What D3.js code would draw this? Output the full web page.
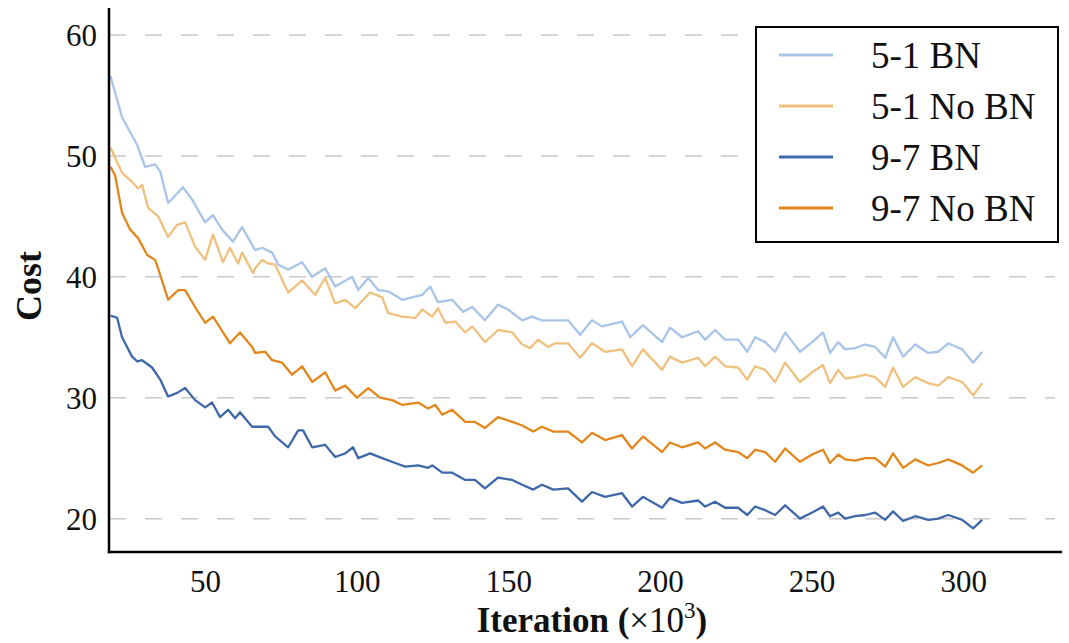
<!DOCTYPE html>
<html>
<head>
<meta charset="utf-8">
<script src="https://cdn.jsdelivr.net/npm/d3@7"></script>
<style>
  html, body { margin: 0; padding: 0; background: #fff; }
  svg { display: block; }
  text { font-family: "Liberation Serif", "DejaVu Serif", serif; fill: #111; }
</style>
</head>
<body>
<svg id="chart" width="1069" height="643"></svg>
<script>
// ---- data (iteration ×10^3, cost) ----
const seriesNames = ["5-1 BN", "5-1 No BN", "9-7 BN", "9-7 No BN"];
const seriesColors = ["#a9c4e9", "#f0c07e", "#3e68a9", "#e3861c"];
const xTicks = [50, 100, 150, 200, 250, 300];
const yTicks = [20, 30, 40, 50, 60];

const s51bn = [[18.8,56.6],[22.6,53.2],[27.6,50.9],[30.2,49.1],[33.5,49.3],[35.2,48.7],[37.8,46.1],[42.7,47.4],[45.7,46.4],[50,44.5],[52.6,45.1],[55.6,43.9],[59.2,42.9],[62.2,44.1],[66.5,42.2],[68.8,42.4],[72.1,42.0],[74.1,41.0],[77.4,40.6],[82.0,41.2],[85.3,40.0],[89.6,40.7],[92.9,39.2],[98.5,40.0],[100.5,38.9],[103.8,39.9],[107.1,38.9],[110.4,38.8],[115.0,38.1],[118.3,38.3],[121.6,38.5],[124.2,39.2],[126.8,37.9],[131.5,38.1],[135.1,37.1],[138.1,37.5],[142.3,36.4],[146.6,37.7],[149.9,37.3],[154.6,36.4],[157.8,36.7],[161.1,36.4],[164.4,36.4],[169.7,36.4],[173.7,35.2],[177.6,36.4],[180.9,35.9],[187.5,36.3],[190.2,35.0],[194.4,36.0],[200.7,34.6],[203.3,35.8],[207.3,35.0],[212.6,35.5],[214.9,34.8],[218.2,35.6],[221.5,34.8],[225.8,34.8],[228.8,33.8],[231.4,35.0],[234.7,34.6],[238.0,33.8],[241.3,35.4],[246.2,33.8],[250.2,34.6],[253.8,35.4],[256.1,33.7],[258.8,34.6],[261.1,34.0],[264.4,34.1],[267.7,34.4],[271.0,34.2],[274.3,33.3],[276.9,35.0],[280.2,33.4],[284.2,34.4],[288.5,33.7],[291.8,33.8],[295.1,34.5],[299.7,34.0],[303.3,32.9],[306.3,33.8]];

const s51nobn = [[18.8,50.7],[22.6,48.6],[25.3,48.0],[27.9,47.3],[29.2,47.6],[31.2,45.7],[34.5,45.0],[37.8,43.3],[40.8,44.3],[43.4,44.5],[46.7,42.5],[50,41.4],[52.6,43.5],[55.9,41.2],[58.2,42.4],[60.9,41.1],[62.2,42.0],[65.8,40.3],[66.5,40.7],[68.8,41.4],[70.8,41.1],[73.1,41.0],[77.4,38.7],[82.0,39.7],[86.3,38.5],[89.6,39.9],[92.9,37.8],[96.2,38.1],[99.5,37.4],[104.4,38.7],[108.4,38.3],[110.4,37.0],[115.0,36.7],[119.3,36.6],[121.6,37.3],[124.9,36.7],[126.8,37.4],[129.2,36.2],[132.5,36.3],[135.8,35.4],[138.1,35.9],[142.3,34.6],[146.6,35.6],[151.3,35.4],[154.6,34.4],[157.2,34.1],[159.8,34.8],[163.1,34.2],[165.4,34.5],[169.7,34.5],[173.7,33.3],[177.6,34.5],[181.9,33.8],[187.5,34.0],[190.8,32.6],[194.4,34.0],[200.7,32.3],[203.3,33.4],[207.3,32.9],[212.6,33.3],[214.9,32.6],[218.2,33.4],[221.5,32.6],[225.8,32.5],[228.8,31.5],[231.4,32.6],[234.7,32.3],[238.0,31.3],[241.3,32.9],[246.2,31.3],[250.2,32.1],[253.8,32.7],[256.1,31.2],[258.8,32.3],[261.1,31.6],[264.4,31.7],[267.7,31.9],[271.0,31.7],[274.3,30.9],[276.9,32.5],[280.2,30.9],[284.2,31.7],[288.5,31.2],[291.8,31.0],[295.1,31.7],[299.7,31.3],[303.3,30.2],[306.3,31.2]];

const s97bn = [[18.8,36.8],[21.0,36.6],[22.6,35.0],[25.9,33.4],[27.6,33.0],[29.2,33.1],[32.5,32.5],[35.2,31.5],[37.8,30.1],[40.8,30.4],[43.4,30.8],[46.7,29.8],[50,29.2],[52.3,29.6],[54.9,28.4],[57.6,29.0],[59.9,28.3],[61.5,28.8],[65.5,27.6],[70.8,27.6],[73.1,26.8],[77.4,25.9],[80.7,27.3],[82.3,27.3],[85.3,25.9],[89.6,26.1],[92.9,25.1],[96.2,25.4],[98.8,25.9],[100.5,25.0],[104.4,25.4],[108.4,25.0],[112.7,24.6],[116.0,24.3],[120.3,24.4],[123.5,24.2],[124.9,24.4],[128.2,23.8],[131.5,23.8],[135.8,23.2],[139.0,23.2],[142.3,22.5],[146.6,23.4],[151.3,23.2],[154.6,22.8],[158.2,22.4],[161.1,22.8],[164.8,22.4],[169.7,22.5],[174.3,21.4],[177.6,22.2],[181.9,21.8],[187.5,22.1],[190.8,21.0],[194.4,21.8],[200.7,20.9],[203.3,21.7],[207.3,21.3],[212.6,21.5],[214.9,21.0],[218.2,21.4],[221.5,20.9],[225.8,20.9],[228.8,20.3],[231.4,21.0],[234.7,20.7],[238.0,20.3],[241.3,21.1],[246.2,20.0],[250.2,20.5],[253.8,21.0],[256.1,20.2],[258.8,20.5],[261.1,20.0],[264.4,20.2],[267.7,20.3],[271.0,20.5],[274.3,19.9],[276.9,20.6],[280.2,19.8],[284.2,20.2],[288.5,19.9],[291.8,20.0],[295.1,20.3],[299.7,19.9],[303.3,19.2],[306.3,19.9]];

const s97nobn = [[18.8,49.1],[20.3,48.4],[22.6,45.3],[25.3,43.9],[27.9,43.2],[30.9,41.8],[33.5,41.4],[34.5,40.7],[37.8,38.1],[41.1,38.9],[43.4,38.9],[46.7,37.5],[50,36.2],[52.6,36.7],[55.9,35.4],[58.2,34.5],[61.5,35.4],[65.5,34.2],[66.5,33.7],[69.8,33.8],[72.1,33.1],[75.4,32.9],[78.7,31.9],[82.0,32.6],[85.3,31.3],[89.6,32.1],[92.9,30.6],[96.2,31.0],[100.1,30.0],[103.8,30.8],[107.7,30.0],[111.7,29.8],[115.0,29.4],[120.3,29.6],[123.5,29.1],[125.9,29.4],[128.2,28.6],[131.5,29.0],[135.8,28.0],[139.0,28.0],[142.3,27.5],[146.6,28.4],[151.3,28.0],[154.6,27.7],[158.2,27.2],[161.1,27.6],[164.8,27.2],[169.7,27.2],[174.3,26.3],[177.6,27.1],[181.9,26.5],[187.5,26.9],[190.8,25.8],[194.4,26.8],[200.7,25.5],[203.3,26.3],[207.3,25.9],[212.6,26.3],[214.9,25.8],[218.2,26.3],[221.5,25.7],[225.8,25.5],[228.8,25.0],[231.4,25.7],[234.7,25.5],[238.0,24.7],[241.3,25.8],[246.2,24.7],[250.2,25.3],[253.8,25.7],[256.1,24.6],[258.8,25.3],[261.1,24.9],[264.4,24.8],[267.7,25.0],[271.0,25.0],[274.3,24.3],[276.9,25.4],[280.2,24.2],[284.2,24.9],[288.5,24.4],[291.8,24.6],[295.1,24.9],[299.7,24.4],[303.3,23.8],[306.3,24.4]];

const seriesData = [s51bn, s51nobn, s97bn, s97nobn];
// drawing order: light lines first, then dark
const drawOrder = [0, 1, 3, 2];

// ---- layout ----
const svg = d3.select("#chart");
const pLeft = 109, pRight = 1055, pTop = 8, pBottom = 552;

const x = d3.scaleLinear().domain([18.3, 330.3]).range([pLeft, pRight]);
const y = d3.scaleLinear().domain([17.24, 62.23]).range([pBottom, pTop]);

// grid lines
svg.append("g").selectAll("line")
  .data(yTicks).join("line")
  .attr("x1", pLeft).attr("x2", pRight)
  .attr("y1", d => y(d)).attr("y2", d => y(d))
  .attr("stroke", "#c9c9c9").attr("stroke-width", 1.5)
  .attr("stroke-dasharray", "17,19");

// lines
const line = d3.line().x(d => x(d[0])).y(d => y(d[1]));
svg.append("g").selectAll("path")
  .data(drawOrder).join("path")
  .attr("d", i => line(seriesData[i]))
  .attr("fill", "none")
  .attr("stroke", i => seriesColors[i])
  .attr("stroke-width", 2.3)
  .attr("stroke-linejoin", "round");

// axes
const xAxis = d3.axisBottom(x).tickValues(xTicks).tickSize(0).tickPadding(0);
const gx = svg.append("g").attr("transform", `translate(0,${pBottom})`).call(xAxis);
gx.select(".domain").remove();
gx.selectAll("text").attr("font-size", 31).attr("y", 40).attr("dy", 0)
  .style("font-family", '"Liberation Serif", serif').attr("fill", "#111");

const yAxis = d3.axisLeft(y).tickValues(yTicks).tickSize(0).tickPadding(0);
const gy = svg.append("g").attr("transform", `translate(${pLeft},0)`).call(yAxis);
gy.select(".domain").remove();
gy.selectAll("text").attr("font-size", 31).attr("x", -12).attr("dy", "0.34em")
  .style("font-family", '"Liberation Serif", serif').attr("fill", "#111");

// spines
svg.append("line").attr("x1", pLeft).attr("x2", pLeft).attr("y1", pTop).attr("y2", pBottom + 1.2)
  .attr("stroke", "#000").attr("stroke-width", 2.5);
svg.append("line").attr("x1", pLeft - 1.2).attr("x2", 1062).attr("y1", pBottom).attr("y2", pBottom)
  .attr("stroke", "#000").attr("stroke-width", 2.5);

// axis labels
svg.append("text")
  .attr("transform", `translate(41,${(pTop + pBottom) / 2 + 6}) rotate(-90)`)
  .attr("text-anchor", "middle")
  .attr("font-size", 36).attr("font-weight", "bold")
  .text("Cost");

const xl = svg.append("text")
  .attr("x", 592).attr("y", 632)
  .attr("text-anchor", "middle")
  .attr("font-size", 35).attr("font-weight", "bold");
xl.append("tspan").text("Iteration (");
xl.append("tspan").attr("font-weight", "normal").text("×10");
xl.append("tspan").attr("font-size", 23).attr("font-weight", "normal").attr("dy", -14).text("3");
xl.append("tspan").attr("dy", 14).text(")");

// legend
const lg = svg.append("g");
lg.append("rect").attr("x", 756).attr("y", 27).attr("width", 302).attr("height", 215)
  .attr("fill", "#fff").attr("stroke", "#000").attr("stroke-width", 2);
const rowY = [55, 106, 157, 208];
const items = lg.selectAll("g.item").data(seriesNames).join("g").attr("class", "item")
  .attr("transform", (d, i) => `translate(0,${rowY[i]})`);
items.append("line").attr("x1", 779).attr("x2", 833).attr("y1", 0).attr("y2", 0)
  .attr("stroke", (d, i) => seriesColors[i]).attr("stroke-width", 3);
items.append("text").attr("x", 871).attr("y", 13)
  .attr("font-size", 37)
  .text(d => d);
</script>
</body>
</html>
